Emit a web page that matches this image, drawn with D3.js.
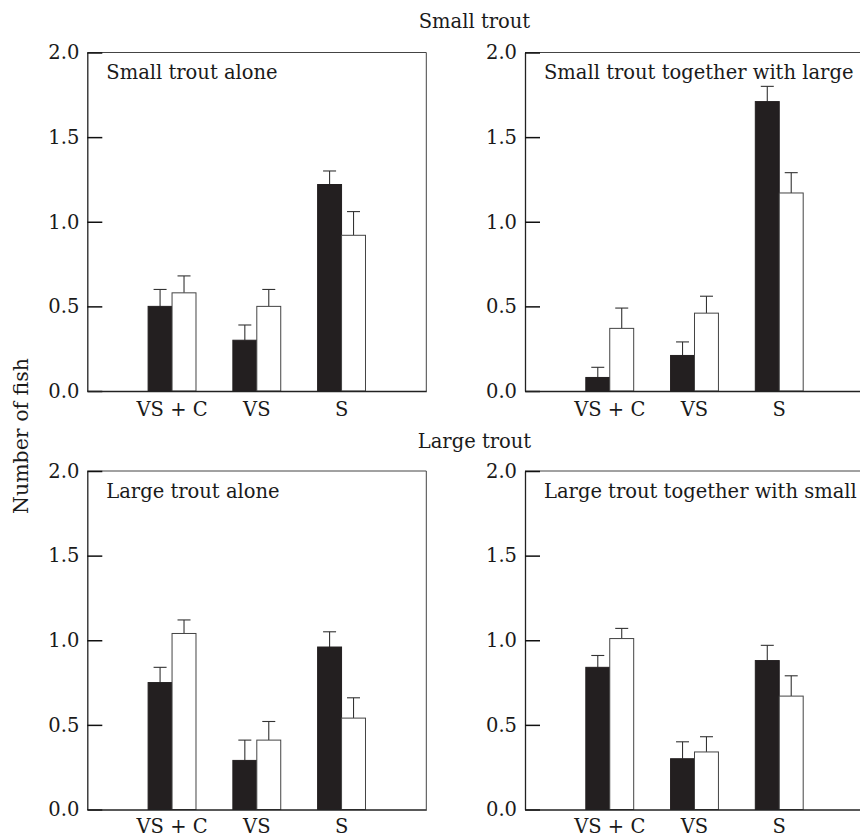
<!DOCTYPE html>
<html>
<head>
<meta charset="utf-8">
<script src="https://cdn.jsdelivr.net/npm/d3@7"></script>
<style>
  html, body { margin: 0; padding: 0; background: #fff; }
  svg { display: block; }
  text { font-family: 'DejaVu Serif', serif; fill: #1a1a1a; }
</style>
</head>
<body>
<svg id="chart" width="860" height="837"></svg>
<script>
// ---- data ----
const categories = ["VS + C", "VS", "S"];
const series = ["black", "white"];
const yTicks = [0, 0.5, 1.0, 1.5, 2.0];
const groupTitles = ["Small trout", "Large trout"];
const panelTitles = ["Small trout alone", "Small trout together with large",
                     "Large trout alone", "Large trout together with small"];
const yTitle = "Number of fish";

// means and standard errors, [VS + C, VS, S]
const smallAloneBlack = [0.50, 0.30, 1.22];
const smallAloneBlackSE = [0.10, 0.09, 0.08];
const smallAloneWhite = [0.58, 0.50, 0.92];
const smallAloneWhiteSE = [0.10, 0.10, 0.14];

const smallWithLargeBlack = [0.08, 0.21, 1.71];
const smallWithLargeBlackSE = [0.06, 0.08, 0.09];
const smallWithLargeWhite = [0.37, 0.46, 1.17];
const smallWithLargeWhiteSE = [0.12, 0.10, 0.12];

const largeAloneBlack = [0.75, 0.29, 0.96];
const largeAloneBlackSE = [0.09, 0.12, 0.09];
const largeAloneWhite = [1.04, 0.41, 0.54];
const largeAloneWhiteSE = [0.08, 0.11, 0.12];

const largeWithSmallBlack = [0.84, 0.30, 0.88];
const largeWithSmallBlackSE = [0.07, 0.10, 0.09];
const largeWithSmallWhite = [1.01, 0.34, 0.67];
const largeWithSmallWhiteSE = [0.06, 0.09, 0.12];

const panelData = [
  { title: panelTitles[0], black: smallAloneBlack, blackSE: smallAloneBlackSE, white: smallAloneWhite, whiteSE: smallAloneWhiteSE },
  { title: panelTitles[1], black: smallWithLargeBlack, blackSE: smallWithLargeBlackSE, white: smallWithLargeWhite, whiteSE: smallWithLargeWhiteSE },
  { title: panelTitles[2], black: largeAloneBlack, blackSE: largeAloneBlackSE, white: largeAloneWhite, whiteSE: largeAloneWhiteSE },
  { title: panelTitles[3], black: largeWithSmallBlack, blackSE: largeWithSmallBlackSE, white: largeWithSmallWhite, whiteSE: largeWithSmallWhiteSE }
];

// ---- layout ----
const W = 339, H = 338.5;
const colX = [87.3, 525];
const rowY = [52.5, 471];
const FS = 19.5;
const FONT = "'DejaVu Serif', serif";

const svg = d3.select("#chart");

// group titles
svg.append("text").attr("x", 474.5).attr("y", 27.5).attr("text-anchor", "middle")
  .style("font-size", FS + "px").text(groupTitles[0]);
svg.append("text").attr("x", 474.5).attr("y", 447.5).attr("text-anchor", "middle")
  .style("font-size", FS + "px").text(groupTitles[1]);

// y title
svg.append("text")
  .attr("transform", "translate(28,436) rotate(-90)")
  .attr("text-anchor", "middle")
  .style("font-size", "20.5px").text(yTitle);

panelData.forEach((p, i) => {
  const row = Math.floor(i / 2);
  const x0 = colX[i % 2], y0 = rowY[row];
  const g = svg.append("g").attr("transform", `translate(${x0},${y0})`);

  const y = d3.scaleLinear().domain([0, 2]).range([H, 0]);
  const x = d3.scaleBand().domain(categories).range([0, W])
    .paddingInner(0.435).paddingOuter(0.7175);
  const xs = d3.scaleBand().domain(series).range([0, x.bandwidth()]);

  // frame: top & right thin grey
  g.append("line").attr("x1", 0).attr("x2", W).attr("y1", 0).attr("y2", 0)
    .attr("stroke", "#444").attr("stroke-width", 1);
  g.append("line").attr("x1", W).attr("x2", W).attr("y1", 0).attr("y2", H)
    .attr("stroke", "#444").attr("stroke-width", 1);

  const rows = categories.map((c, k) => ({
    cat: c,
    vals: [
      { s: "black", v: p.black[k], se: p.blackSE[k] },
      { s: "white", v: p.white[k], se: p.whiteSE[k] }
    ]
  }));

  const grp = g.selectAll("g.grp").data(rows).join("g")
    .attr("class", "grp")
    .attr("transform", d => `translate(${x(d.cat)},0)`);

  // error bars (upper only)
  grp.selectAll("g.err").data(d => d.vals).join("g").attr("class", "err")
    .each(function (d) {
      const cx = xs(d.s) + xs.bandwidth() / 2;
      const e = d3.select(this);
      e.append("line").attr("x1", cx).attr("x2", cx)
        .attr("y1", y(d.v)).attr("y2", y(d.v + d.se))
        .attr("stroke", "#333").attr("stroke-width", 1.1);
      e.append("line").attr("x1", cx - 6.5).attr("x2", cx + 6.5)
        .attr("y1", y(d.v + d.se)).attr("y2", y(d.v + d.se))
        .attr("stroke", "#333").attr("stroke-width", 1.1);
    });

  grp.selectAll("rect").data(d => d.vals).join("rect")
    .attr("x", d => xs(d.s))
    .attr("width", xs.bandwidth())
    .attr("y", d => y(d.v))
    .attr("height", d => y(0) - y(d.v))
    .attr("fill", d => d.s === "black" ? "#231f20" : "#ffffff")
    .attr("stroke", d => d.s === "black" ? "#231f20" : "#444")
    .attr("stroke-width", 1);

  // left axis with inward ticks
  const ya = g.append("g").call(
    d3.axisLeft(y).tickValues(yTicks).tickFormat(d3.format(".1f"))
      .tickSizeInner(-15).tickSizeOuter(0).tickPadding(8)
  );
  ya.attr("font-family", null).attr("font-size", null);
  ya.select(".domain").attr("stroke", "#222").attr("stroke-width", 1.3);
  ya.selectAll(".tick line").attr("stroke", "#111").attr("stroke-width", 1.5);
  ya.selectAll(".tick text").style("font-size", FS + "px")
    .style("font-family", FONT).attr("fill", "#1a1a1a");

  // bottom axis
  const xa = g.append("g").attr("transform", `translate(0,${H})`).call(
    d3.axisBottom(x).tickSize(0).tickPadding(row === 0 ? 11 : 9.5)
  );
  xa.attr("font-family", null).attr("font-size", null);
  xa.select(".domain").attr("stroke", "#222").attr("stroke-width", 1.3);
  xa.selectAll(".tick text").style("font-size", FS + "px")
    .style("font-family", FONT).attr("fill", "#1a1a1a");

  // panel title
  g.append("text").attr("x", 19).attr("y", 26.5)
    .style("font-size", FS + "px").text(p.title);
});
</script>
</body>
</html>
